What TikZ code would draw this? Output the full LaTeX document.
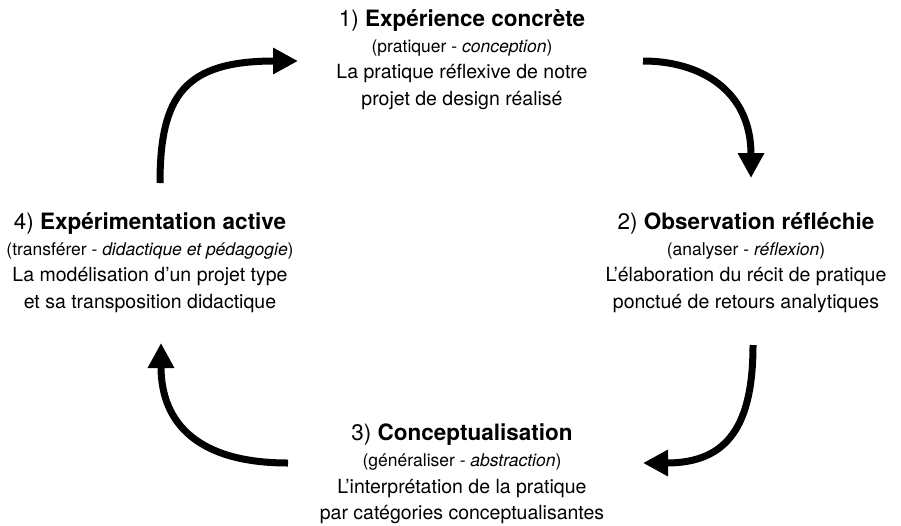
\documentclass[tikz,border=0pt]{standalone}
\usepackage{fontspec}
\setmainfont{TeX Gyre Heros}
\usetikzlibrary{arrows.meta}

\begin{document}
\begin{tikzpicture}[x=1pt,y=-1pt,
    head/.style={anchor=base,font=\fontsize{22.5}{27}\selectfont},
    paren/.style={anchor=base,font=\fontsize{17.5}{21}\selectfont},
    txt/.style={anchor=base,font=\fontsize{19.5}{24}\selectfont},
    cyc/.style={line width=7pt,-{Triangle[length=25pt,width=25pt]}}]
  \useasboundingbox (0,0) rectangle (901,525);

  % 1) top
  \node[head]  (t1) at (462,26)  {1) \textbf{Expérience concrète}};
  \node[paren] (p1) at (462,52)  {(pratiquer - \textit{conception})};
  \node[txt]   (b1) at (462,78)  {La pratique réflexive de notre};
  \node[txt]   (c1) at (462,105) {projet de design réalisé};

  % 2) right
  \node[head]  (t2) at (746,229) {2) \textbf{Observation réfléchie}};
  \node[paren] (p2) at (746,255) {(analyser - \textit{réflexion})};
  \node[txt]   (b2) at (746,281) {L’élaboration du récit de pratique};
  \node[txt]   (c2) at (746,308) {ponctué de retours analytiques};

  % 3) bottom
  \node[head]  (t3) at (462,440) {3) \textbf{Conceptualisation}};
  \node[paren] (p3) at (462,466) {(généraliser - \textit{abstraction})};
  \node[txt]   (b3) at (462,493) {L’interprétation de la pratique};
  \node[txt]   (c3) at (462,519) {par catégories conceptualisantes};

  % 4) left
  \node[head]  (t4) at (150,229) {4) \textbf{Expérimentation active}};
  \node[paren] (p4) at (150,255) {(transférer - \textit{didactique et pédagogie})};
  \node[txt]   (b4) at (150,281) {La modélisation d’un projet type};
  \node[txt]   (c4) at (150,308) {et sa transposition didactique};

  % arrow ends
  \coordinate (a41) at (160,183);
  \coordinate (a14) at (298,61);
  \coordinate (a12) at (643,61);
  \coordinate (a21) at (751,178);
  \coordinate (a23) at (753,345);
  \coordinate (a32) at (643,463);
  \coordinate (a34) at (288,463);
  \coordinate (a43) at (161,343);

  \draw[cyc] (a41) .. controls +(0,-88) and +(-113,0) .. (a14);
  \draw[cyc] (a12) .. controls +(57,0) and +(0,-88) .. (a21);
  \draw[cyc] (a23) .. controls +(0,80) and +(85,0) .. (a32);
  \draw[cyc] (a34) .. controls +(-88,0) and +(0,82) .. (a43);
\end{tikzpicture}
\end{document}
